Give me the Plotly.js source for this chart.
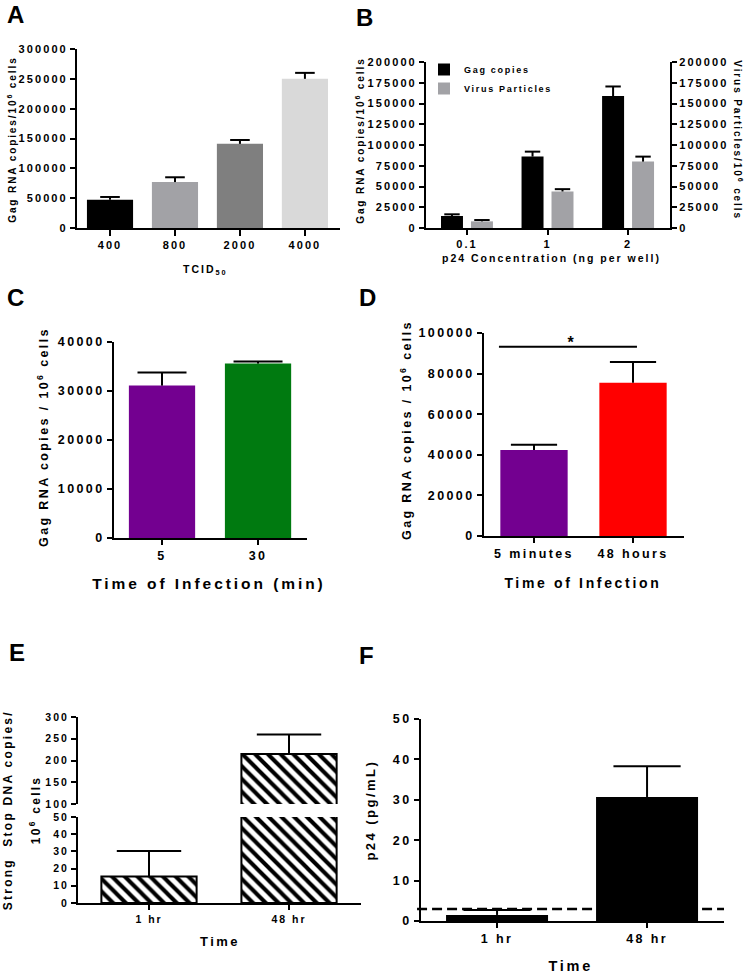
<!DOCTYPE html>
<html>
<head>
<meta charset="utf-8">
<script src="https://cdn.plot.ly/plotly-3.0.1.min.js"></script>
<style>
html,body{margin:0;padding:0;background:#fff;}
#chart{width:748px;height:975px;}
</style>
</head>
<body>
<div id="chart"></div>
<script>
// ---------------- DATA ----------------
// Panel A
const catsA = ['400', '800', '2000', '4000'];
const valsA = [47500, 77000, 141000, 250000];
const errA = [4500, 8000, 6500, 10000];
const colorsA = ['#000000', '#a2a2a6', '#7f7f7f', '#d9d9d9'];
// Panel B
const catsB = ['0.1', '1', '2'];
const gagB = [14500, 86000, 159000];
const gagErrB = [2000, 6000, 11500];
const virusB = [8000, 44000, 80000];
const virusErrB = [1600, 2800, 6000];
// Panel C
const catsC = ['5', '30'];
const valsC = [31100, 35600];
const errC = [2700, 400];
const colorsC = ['#730090', '#007a10'];
// Panel D
const catsD = ['5 minutes', '48 hours'];
const valsD = [42400, 75500];
const errD = [2500, 10200];
const colorsD = ['#730090', '#ff0000'];
const sigD = {x0: -0.354, x1: 1.04, y: 93200, label: '*'};
// Panel E (broken axis)
const catsE = ['1 hr', '48 hr'];
const valsE = [15.4, 215];
const errE = [14.8, 45];
// Panel F
const catsF = ['1 hr', '48 hr'];
const valsF = [1.5, 30.7];
const errF = [1.2, 7.6];
const lodF = 3;

// ---------------- LAYOUT HELPERS ----------------
const W = 748, H = 975;
const FONT = 'Liberation Sans, Arial, Helvetica, sans-serif';
const px = x => x / W;
const py = y => 1 - y / H;
const zeros = n => new Array(n).fill(0);
const addArr = (a, b) => a.map((v, i) => v + b[i]);

function font(size) { return {family: FONT, size: size, color: '#000', weight: 'bold'}; }
function axis(extra, tsize) {
  return Object.assign({
    showline: true, linecolor: '#000', linewidth: 2,
    ticks: 'outside', ticklen: 5, tickwidth: 2, tickcolor: '#000',
    showgrid: false, zeroline: false, fixedrange: true,
    tickfont: font(tsize || 11)
  }, extra);
}
function ann(text, x, y, size, angle, extra) {
  return Object.assign({
    text: text, x: px(x), y: py(y), xref: 'paper', yref: 'paper',
    showarrow: false, textangle: angle || 0, font: font(size),
    xanchor: 'center', yanchor: 'middle'
  }, extra || {});
}
// upward-only error stem (no caps); caps drawn as markers at the top
function stem(arr) {
  return {type: 'data', array: arr, arrayminus: zeros(arr.length), symmetric: false,
          color: '#000', thickness: 2, width: 0, visible: true};
}
function caps(x, tops, xa, ya, halfw) {
  return {type: 'scatter', mode: 'markers', x: x, y: tops, xaxis: xa, yaxis: ya,
    marker: {symbol: 'line-ew', size: 2 * halfw, color: '#000', line: {color: '#000', width: 2}},
    showlegend: false, hoverinfo: 'skip', cliponaxis: true};
}

// ---------------- TRACES ----------------
const traces = [];
// A
traces.push({type: 'bar', x: catsA, y: valsA, xaxis: 'x', yaxis: 'y', width: 0.71,
  marker: {color: colorsA, line: {width: 0}}, error_y: stem(errA), showlegend: false});
traces.push(caps(catsA, addArr(valsA, errA), 'x', 'y', 7));
// B (bars offset within each category)
const bw = 0.273, offGag = -0.323, offVir = 0.049;
traces.push({type: 'bar', name: 'Gag copies', x: catsB, y: gagB, xaxis: 'x2', yaxis: 'y2',
  width: bw, offset: offGag, marker: {color: '#000000', line: {width: 0}},
  error_y: stem(gagErrB), showlegend: true});
traces.push({type: 'bar', name: 'Virus Particles', x: catsB, y: virusB, xaxis: 'x2', yaxis: 'y3',
  width: bw, offset: offVir, marker: {color: '#a2a2a6', line: {width: 0}},
  error_y: stem(virusErrB), showlegend: true});
const idxB = catsB.map((c, i) => i);
traces.push(caps(idxB.map(i => i + offGag + bw / 2), addArr(gagB, gagErrB), 'x7', 'y2', 5.5));
traces.push(caps(idxB.map(i => i + offVir + bw / 2), addArr(virusB, virusErrB), 'x7', 'y3', 5.5));
// C
traces.push({type: 'bar', x: catsC, y: valsC, xaxis: 'x3', yaxis: 'y4', width: 0.69,
  marker: {color: colorsC, line: {width: 0}}, error_y: stem(errC), showlegend: false});
traces.push(caps(catsC, addArr(valsC, errC), 'x3', 'y4', 17.5));
// D
traces.push({type: 'bar', x: catsD, y: valsD, xaxis: 'x4', yaxis: 'y5', width: 0.68,
  marker: {color: colorsD, line: {width: 0}}, error_y: stem(errD), showlegend: false});
traces.push(caps(catsD, addArr(valsD, errD), 'x4', 'y5', 16.5));
// E upper and lower (same data, broken axis)
const hatch = {color: '#ffffff', line: {color: '#000', width: 2},
  pattern: {shape: '\\', fgcolor: '#000', bgcolor: '#ffffff', size: 9, solidity: 0.45, fillmode: 'replace'}};
traces.push({type: 'bar', x: catsE, y: valsE, xaxis: 'x5', yaxis: 'y6', width: 0.68,
  marker: hatch, error_y: stem(errE), showlegend: false});
traces.push({type: 'bar', x: catsE, y: valsE, xaxis: 'x5', yaxis: 'y7', width: 0.68,
  marker: hatch, error_y: stem(errE), showlegend: false});
traces.push(caps(catsE, addArr(valsE, errE), 'x5', 'y6', 23));
traces.push(caps(catsE, addArr(valsE, errE), 'x5', 'y7', 23));
// F
traces.push({type: 'bar', x: catsF, y: valsF, xaxis: 'x6', yaxis: 'y8', width: 0.68,
  marker: {color: '#000', line: {width: 0}}, error_y: stem(errF), showlegend: false});
traces.push(caps(catsF, addArr(valsF, errF), 'x6', 'y8', 24));

// ---------------- LAYOUT ----------------
const layout = {
  width: W, height: H, margin: {l: 0, r: 0, t: 0, b: 0},
  paper_bgcolor: '#fff', plot_bgcolor: 'rgba(0,0,0,0)',
  barmode: 'overlay', bargap: 0.3,
  font: font(11),
  showlegend: true,
  legend: {x: px(424), y: py(55), xanchor: 'left', yanchor: 'top', font: font(9),
           bgcolor: 'rgba(0,0,0,0)', itemwidth: 30, traceorder: 'normal'},
  // A
  xaxis: axis({domain: [px(77), px(340)], anchor: 'y', type: 'category', range: [-0.508, 3.54], ticklen: 6}, 11),
  yaxis: axis({domain: [py(228), py(49)], anchor: 'x', range: [0, 300000], dtick: 50000, tickformat: 'd'}, 11),
  // B
  xaxis2: axis({domain: [px(426), px(670)], anchor: 'y2', type: 'category', range: [-0.509, 2.52]}, 11),
  xaxis7: {domain: [px(426), px(670)], anchor: 'y2', overlaying: 'x2', range: [-0.509, 2.52],
           visible: false, fixedrange: true},
  yaxis2: axis({domain: [py(228), py(62)], anchor: 'x2', range: [0, 200000], dtick: 25000, tickformat: 'd'}, 11),
  yaxis3: axis({overlaying: 'y2', side: 'right', anchor: 'x2', range: [0, 200000], dtick: 25000, tickformat: 'd'}, 11),
  // C
  xaxis3: axis({domain: [px(114), px(307)], anchor: 'y4', type: 'category', range: [-0.5, 1.51]}, 12.5),
  yaxis4: axis({domain: [py(538), py(342)], anchor: 'x3', range: [0, 40000], dtick: 10000, tickformat: 'd'}, 12.5),
  // D
  xaxis4: axis({domain: [px(484), px(684)], anchor: 'y5', type: 'category', range: [-0.505, 1.515]}, 12.5),
  yaxis5: axis({domain: [py(536), py(333)], anchor: 'x4', range: [0, 100000], dtick: 20000, tickformat: 'd'}, 12.5),
  // E
  xaxis5: axis({domain: [px(78), px(361)], anchor: 'y7', type: 'category', range: [-0.507, 1.514]}, 10.5),
  yaxis6: axis({domain: [py(804), py(717)], anchor: 'x5', range: [100, 300], dtick: 50, tickformat: 'd'}, 10.5),
  yaxis7: axis({domain: [py(903), py(817)], anchor: 'x5', range: [0, 50], dtick: 10, tickformat: 'd'}, 10.5),
  // F
  xaxis6: axis({domain: [px(421), px(724)], anchor: 'y8', type: 'category', range: [-0.507, 1.513]}, 12.5),
  yaxis8: axis({domain: [py(921), py(719)], anchor: 'x6', range: [0, 50], dtick: 10, tickformat: 'd'}, 12.5),
  shapes: [
    {type: 'line', xref: 'x4', yref: 'y5', x0: sigD.x0, x1: sigD.x1, y0: sigD.y, y1: sigD.y,
     line: {color: '#000', width: 2}},
    {type: 'line', xref: 'x6 domain', yref: 'y8', x0: -0.013, x1: 1, y0: lodF, y1: lodF,
     line: {color: '#000', width: 2.5, dash: '10px,5px'}}
  ],
  annotations: [
    // panel letters
    ann('A', 15, 15, 24), ann('B', 364, 17, 24), ann('C', 15, 297, 24),
    ann('D', 367, 297, 24), ann('E', 17, 652, 24), ann('F', 366, 655, 24),
    // A titles
    ann('Gag RNA copies/10<sup>6</sup> cells', 12, 140, 10, -90),
    ann('TCID<sub>50</sub>', 205, 270, 10.5),
    // B titles
    ann('Gag RNA copies/10<sup>6</sup> cells', 360, 141, 10, -90),
    ann('Virus Particles/10<sup>6</sup> cells', 738, 140, 10, 90),
    ann('p24 Concentration (ng per well)', 551, 258, 10.5),
    // C titles
    ann('Gag RNA copies / 10<sup>6</sup> cells', 43, 437, 12.5, -90),
    ann('Time of Infection (min)', 209, 583, 15.5),
    // D titles
    ann('Gag RNA copies / 10<sup>6</sup> cells', 406, 430, 12.5, -90),
    ann('Time of Infection', 583, 583, 14),
    {text: sigD.label, x: 0.384, y: sigD.y, xref: 'x4', yref: 'y5', showarrow: false,
     font: font(16), yanchor: 'middle', yshift: 4},
    // E titles
    ann('Strong  Stop DNA copies/', 8, 810, 12, -90),
    ann('10<sup>6</sup> cells', 35, 810, 12, -90),
    ann('Time', 220, 941, 13),
    // F titles
    ann('p24 (pg/mL)', 370, 810, 13, -90),
    ann('Time', 571, 966, 14.5)
  ]
};

Plotly.newPlot('chart', traces, layout, {staticPlot: true}).then(() => {
  document.querySelectorAll('#chart svg text').forEach(t => {
    const fs = parseFloat(t.style.fontSize);
    if (fs && fs < 20) t.style.letterSpacing = (fs * 0.19).toFixed(2) + 'px';
  });
  document.querySelectorAll('#chart .legend [clip-path]').forEach(e => e.removeAttribute('clip-path'));
});
</script>
</body>
</html>
